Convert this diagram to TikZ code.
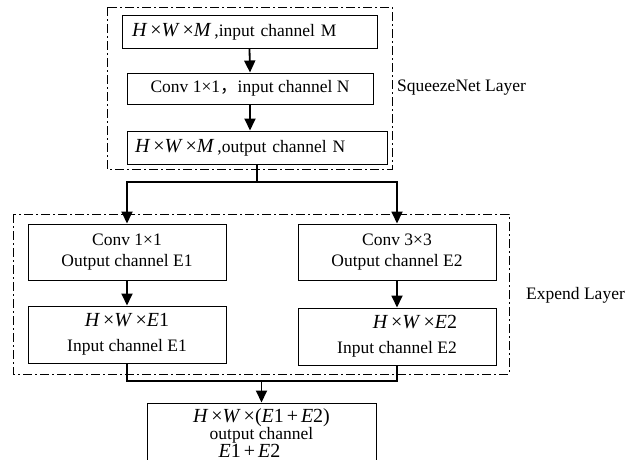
\documentclass[tikz,border=0pt]{standalone}
\usepackage{fontspec}
\setmainfont{Liberation Serif}
\newfontfamily\cjk{Noto Sans CJK SC}
\usetikzlibrary{arrows.meta}
\newcommand{\mi}[1]{{\fontsize{20}{17.5}\selectfont\textit{#1}}}
\newcommand{\mr}[1]{{\fontsize{20}{17.5}\selectfont #1}}
\begin{document}
\begin{tikzpicture}[x=1pt,y=-1pt,
  box/.style={draw, line width=1pt, inner sep=0pt, font=\fontsize{17.5}{21}\selectfont, align=center},
  conn/.style={line width=1.8pt},
  arr/.style={conn, -{Triangle[length=12pt,width=11pt]}},
  layer/.style={draw, line width=0.9pt, dash pattern=on 9pt off 3pt on 2pt off 3pt},
  lbl/.style={font=\fontsize{17.5}{20}\selectfont, anchor=west, inner sep=0pt}]
\useasboundingbox (0,0) rectangle (626,459);
% SqueezeNet layer
\draw[layer] (107,7) rectangle (392,169);
\node[box, minimum width=255pt, minimum height=33pt, text width=235pt, align=left] (b1) at (249.5,31.5)
  {\mi{H}\,\mr{×}\mi{W}\,\mr{×}\mi{M}\,,input channel M};
\node[box, minimum width=246pt, minimum height=31pt] (b2) at (250,88.5)
  {Conv 1×1{\cjk ，}input channel N};
\node[box, minimum width=260pt, minimum height=33pt, text width=244pt, align=left] (b3) at (257,147.5)
  {\mi{H}\,\mr{×}\mi{W}\,\mr{×}\mi{M}\,,output channel N};
\node[lbl] (sq) at (397,88) {SqueezeNet Layer};
\draw[arr] (b1.south) -- (b2.north);
\draw[arr] (b2.south) -- (b2.south |- b3.north);
% Expend layer
\draw[layer] (13,214) rectangle (509,374);
\node[box, minimum width=198pt, minimum height=56pt] (c1) at (127,252) {Conv 1×1\\Output channel E1};
\node[box, minimum width=198pt, minimum height=56pt] (c2) at (397,252) {Conv 3×3\\Output channel E2};
\node[box, minimum width=198pt, minimum height=57pt, font=\fontsize{17.5}{25}\selectfont] (e1) at (127,334.5)
  {\mi{H}\,\mr{×}\mi{W}\,\mr{×}\mi{E}\mr{1}\\Input channel E1};
\node[box, minimum width=198pt, minimum height=57pt, font=\fontsize{17.5}{25}\selectfont] (e2) at (397,336.5)
  {\hspace*{36pt}\mi{H}\,\mr{×}\mi{W}\,\mr{×}\mi{E}\mr{2}\\Input channel E2};
\node[lbl] (ex) at (526,295) {Expend Layer};
\coordinate (sp) at (b3.south |- 0,182);
\draw[conn] (b3.south) -- (sp);
\draw[arr] (sp) -| (c1.north);
\draw[arr] (sp) -| (c2.north);
\draw[arr] (c1.south) -- (e1.north);
\draw[arr] (c2.south) -- (e2.north);
% output
\node[box, minimum width=229pt, minimum height=60pt, font=\fontsize{17.5}{17.2}\selectfont] (out) at (261.5,433)
  {\mi{H}\,\mr{×}\mi{W}\,\mr{×(}\mi{E}\mr{1}\,\mr{+}\,\mi{E}\mr{2)}\\output channel\\\mi{E}\mr{1}\,\mr{+}\,\mi{E}\mr{2}\hspace*{24pt}};
\coordinate (mg) at (out.north |- 0,381);
\draw[conn] (e1.south) |- (e2.south |- mg) -- (e2.south);
\draw[arr] (mg) -- (out.north);
\end{tikzpicture}
\end{document}
